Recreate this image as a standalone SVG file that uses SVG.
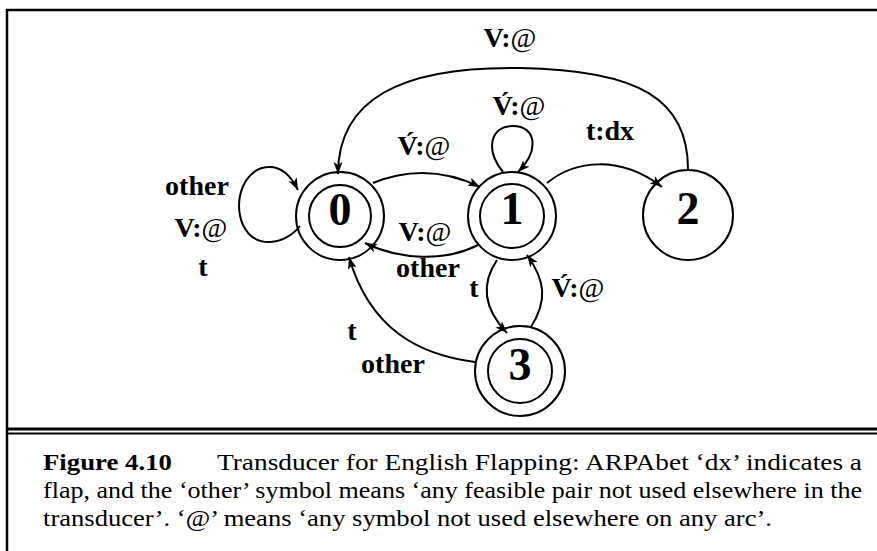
<svg xmlns="http://www.w3.org/2000/svg" width="877" height="551" viewBox="0 0 877 551">
<style>
.st{fill:none;stroke:#000;stroke-width:2}
.ed{fill:none;stroke:#000;stroke-width:2;marker-end:url(#ah)}
.num{font-family:"Liberation Serif","Times New Roman",serif;font-weight:bold;font-size:46px;text-anchor:middle;fill:#000}
.lb{font-family:"Liberation Serif","Times New Roman",serif;font-weight:bold;font-size:28px;text-anchor:middle;fill:#000}
.at{font-weight:normal}
.cap{font-family:"Liberation Serif","Times New Roman",serif;font-size:23px;fill:#000}
</style>
<defs>
<marker id="ah" markerUnits="userSpaceOnUse" markerWidth="14" markerHeight="10" refX="12" refY="4.5" orient="auto">
<path d="M0,0 L12,4.5 L0,9 L3,4.5 Z" fill="#000"/>
</marker>
</defs>
<rect x="0" y="0" width="877" height="551" fill="#fff"/>
<g id="frame">
<path d="M7,551 L7,10 L877,10" fill="none" stroke="#000" stroke-width="2.5"/>
<line x1="7" y1="429" x2="877" y2="429" stroke="#000" stroke-width="3"/>
<line x1="7" y1="433.5" x2="877" y2="433.5" stroke="#000" stroke-width="2"/>
</g>
<g id="node0">
<circle class="st" cx="340" cy="216" r="44"/>
<circle class="st" cx="340" cy="216" r="31"/>
<text class="num" x="340" y="225">0</text>
</g>
<g id="node1">
<circle class="st" cx="512" cy="216" r="44"/>
<circle class="st" cx="512" cy="216" r="32"/>
<text class="num" x="512" y="224">1</text>
</g>
<g id="node2">
<circle class="st" cx="688" cy="215" r="45"/>
<text class="num" x="688" y="224">2</text>
</g>
<g id="node3">
<circle class="st" cx="520" cy="371" r="45"/>
<circle class="st" cx="520" cy="371" r="32"/>
<text class="num" x="520" y="380">3</text>
</g>
<g id="connectors">
<path class="ed" d="M688,169 C688,100 640,70 520,68 C400,66 338,100 338,174"/>
<path class="ed" d="M300,226 C285,245 255,250 243,225 C232,200 245,168 268,167 C282,166 292,178 298,190"/>
<path class="ed" d="M373,183 C410,168 445,170 480,187"/>
<path class="ed" d="M478,245 C445,262 400,260 365,243"/>
<path class="ed" d="M503,172 C485,150 490,126 513,126 C536,126 540,150 518,172"/>
<path class="ed" d="M547,183 C575,160 620,155 662,187"/>
<path class="ed" d="M497,260 C480,285 485,310 507,333"/>
<path class="ed" d="M531,327 C548,300 545,280 527,255"/>
<path class="ed" d="M475,362 C420,355 370,330 349,257"/>
</g>
<g id="labels">
<text class="lb" x="510" y="47">V:<tspan class="at">@</tspan></text>
<text class="lb" x="424" y="155">V́:<tspan class="at">@</tspan></text>
<text class="lb" x="519" y="115">V́:<tspan class="at">@</tspan></text>
<text class="lb" x="610" y="140">t:dx</text>
<text class="lb" x="425" y="241">V:<tspan class="at">@</tspan></text>
<text class="lb" x="428" y="277">other</text>
<text class="lb" x="474" y="297">t</text>
<text class="lb" x="578" y="297">V́:<tspan class="at">@</tspan></text>
<text class="lb" x="352" y="340">t</text>
<text class="lb" x="393" y="373">other</text>
<text class="lb" x="197" y="195">other</text>
<text class="lb" x="201" y="237">V:<tspan class="at">@</tspan></text>
<text class="lb" x="203" y="276">t</text>
</g>
<g id="caption">
<text class="cap" x="43" y="470" font-weight="bold" textLength="129" lengthAdjust="spacingAndGlyphs">Figure 4.10</text>
<text class="cap" x="217" y="470" textLength="645" lengthAdjust="spacingAndGlyphs">Transducer for English Flapping:  ARPAbet ‘dx’ indicates a</text>
<text class="cap" x="43" y="498" textLength="819" lengthAdjust="spacingAndGlyphs">flap, and the ‘other’ symbol means ‘any feasible pair not used elsewhere in the</text>
<text class="cap" x="43" y="526" textLength="729" lengthAdjust="spacingAndGlyphs">transducer’. ‘@’ means ‘any symbol not used elsewhere on any arc’.</text>
</g>
</svg>
